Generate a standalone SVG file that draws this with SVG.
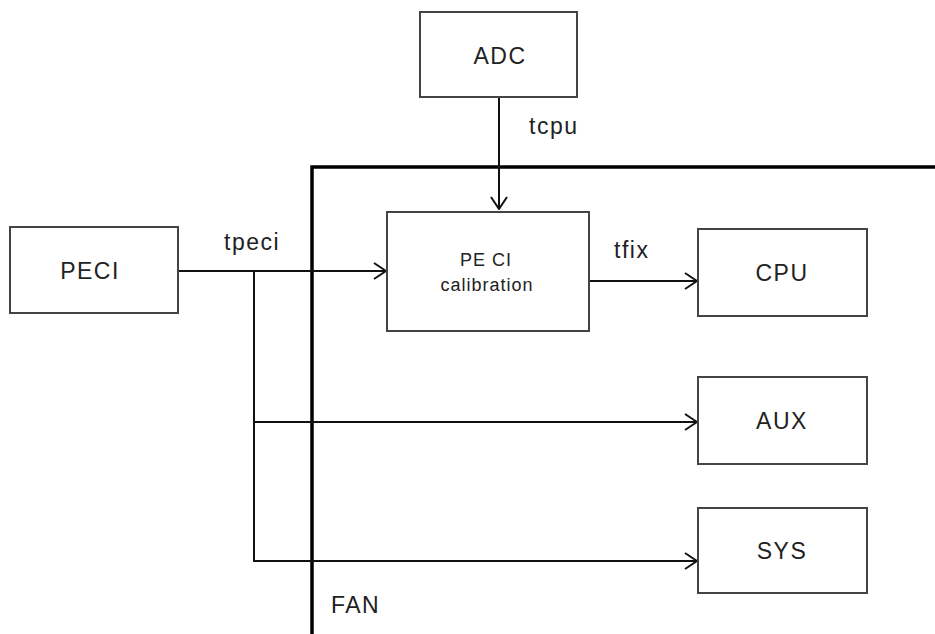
<svg xmlns="http://www.w3.org/2000/svg" width="935" height="634" viewBox="0 0 935 634">
<style>
.box{fill:#fff;stroke:#444;stroke-width:2}
.ln{fill:none;stroke:#111;stroke-width:2}
.fan{fill:none;stroke:#000;stroke-width:3.5}
text{font-family:"Liberation Sans",Arial,sans-serif;fill:#222;font-size:23px;letter-spacing:1.5px}
.c{text-anchor:middle}
.s{font-size:18px;letter-spacing:1px}
</style>
<defs>
<marker id="ah" viewBox="0 0 14 18" refX="13" refY="9" markerWidth="14" markerHeight="18" markerUnits="userSpaceOnUse" orient="auto">
<path d="M1,1 L13,9 L1,17" fill="none" stroke="#111" stroke-width="2"/>
</marker>
</defs>
<rect width="935" height="634" fill="#fff"/>
<g id="fan">
<path class="fan" d="M312,634 V167 H935"/>
<text x="331" y="613">FAN</text>
</g>
<g id="connectors">
<path class="ln" d="M499,97 V209" marker-end="url(#ah)"/>
<path class="ln" d="M178,271 H386" marker-end="url(#ah)"/>
<path class="ln" d="M589,281 H697" marker-end="url(#ah)"/>
<path class="ln" d="M254,271 V561 H697" marker-end="url(#ah)"/>
<path class="ln" d="M254,422 H697" marker-end="url(#ah)"/>
<text x="529" y="134">tcpu</text>
<text x="224" y="250">tpeci</text>
<text x="614" y="258">tfix</text>
</g>
<g id="adc">
<rect class="box" x="420" y="12" width="157" height="85"/>
<text class="c" x="500" y="64">ADC</text>
</g>
<g id="peci">
<rect class="box" x="10" y="227" width="168" height="86"/>
<text class="c" x="90" y="279">PECI</text>
</g>
<g id="peci-calibration">
<rect class="box" x="387" y="212" width="202" height="119"/>
<text class="c s" x="486" y="266">PE CI</text>
<text class="c s" x="487" y="291">calibration</text>
</g>
<g id="cpu">
<rect class="box" x="698" y="229" width="169" height="87"/>
<text class="c" x="782" y="281">CPU</text>
</g>
<g id="aux">
<rect class="box" x="698" y="377" width="169" height="87"/>
<text class="c" x="782" y="429">AUX</text>
</g>
<g id="sys">
<rect class="box" x="698" y="508" width="169" height="85"/>
<text class="c" x="782" y="559">SYS</text>
</g>
</svg>
